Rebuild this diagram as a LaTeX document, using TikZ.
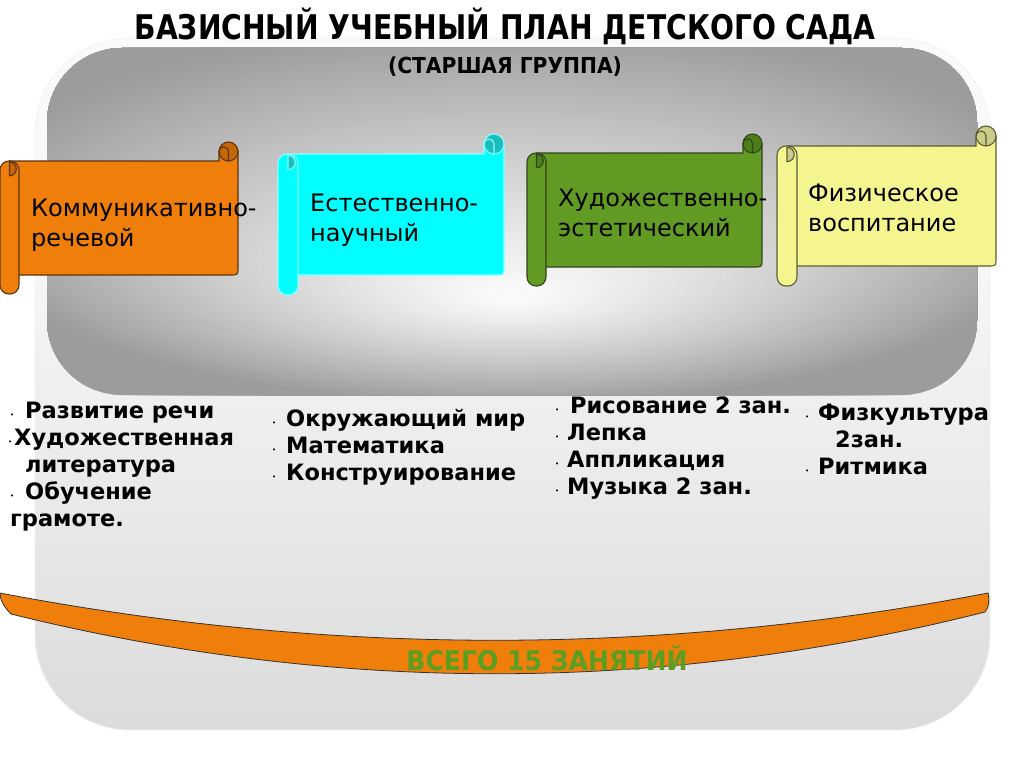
\documentclass[tikz,border=0pt]{standalone}
\usepackage{fontspec}
\setmainfont{DejaVu Sans}
\usetikzlibrary{calc}
\definecolor{orF}{HTML}{EF7F0A}
\definecolor{orC}{HTML}{C4660A}
\definecolor{orL}{HTML}{5B3410}
\definecolor{cyF}{HTML}{00FFFF}
\definecolor{cyC}{HTML}{1CBDBD}
\definecolor{cyL}{HTML}{8CFFFF}
\definecolor{grF}{HTML}{629B23}
\definecolor{grC}{HTML}{4C7E1A}
\definecolor{grL}{HTML}{34441A}
\definecolor{yeF}{HTML}{F5F58F}
\definecolor{yeC}{HTML}{CBCB8A}
\definecolor{yeL}{HTML}{5C5C33}
\definecolor{bandtext}{HTML}{5C9E22}
\pgfdeclareverticalshading{outershade}{100bp}{color(0bp)=(gray!30); color(25bp)=(gray!28); color(45bp)=(gray!15); color(60bp)=(gray!6); color(100bp)=(white)}
\tikzset{
  scrollline/.style={line width=1.1pt},
  lbl/.style={font=\fontsize{24}{30}\selectfont, anchor=base west, inner sep=0pt},
  item/.style={font=\bfseries\fontsize{22.5}{27}\selectfont, anchor=base west, inner sep=0pt},
  bul/.style={font=\fontsize{7}{7}\selectfont, anchor=base west, inner sep=0pt},
  ttl/.style={font=\bfseries\fontsize{34}{40}\selectfont, anchor=base, inner sep=0pt},
}
% #1 x0, #2 y0, #3 x1, #4 y1, #5 ch, #6 fill, #7 line, #8 curl
\newcommand\scrollshape[8]{%
  \draw[fill=#6,draw=#7,scrollline] ({#1+#5/2},{#2+#5}) -- ({#3-#5},{#2+#5}) -- ({#3-#5},{#2+#5/2}) -- ({#3},{#2+#5/2}) -- ({#3},{#4-#5-8}) .. controls ({#3},{#4-#5}) .. ({#3-8},{#4-#5}) -- ({#1+#5/2},{#4-#5}) -- cycle;
  \draw[fill=#8,draw=#7,scrollline] ({#3-#5/2},{#2+#5/2}) circle[radius={#5/2}];
  \draw[draw=#7,scrollline] ({#3-#5/2},{#2+#5}) -- ({#3-#5/2},{#2+#5/2}) arc[start angle=0,end angle=-180,radius={#5/4}];
  \draw[fill=#6,draw=#7,scrollline,rounded corners=9pt] ({#1},{#2+#5}) rectangle ({#1+#5},{#4});
  \draw[fill=#8,draw=#7,scrollline] ({#1+#5/2},{#2+#5*1.06}) arc[start angle=-90,end angle=90,radius={#5*0.36}] -- cycle;
}
\begin{document}
\begin{tikzpicture}[x=1pt,y=-1pt]
\useasboundingbox (0,0) rectangle (1024,768);
% outer panel
\shade[shading=outershade, draw=gray!12, line width=0.6pt, rounded corners=95pt] (35,38) rectangle (990,730);
% inner panel: gradient built from nested ellipses
\begin{scope}
  \clip[rounded corners=75pt] (47,48) rectangle (977,395);
  \fill[gray!78] (47,48) rectangle (977,395);
  \foreach \i in {90,89,...,1} {
    \pgfmathsetmacro\t{\i/70}
    \pgfmathsetmacro\p{min(78,3+74*(\t)^1.15)}
    \fill[gray!\p] (512,{300-85*\t}) ellipse[x radius={560*\t}, y radius={190*\t}];
  }
\end{scope}
% scrolls
\scrollshape{0}{142}{238}{294}{19}{orF}{orL}{orC}
\scrollshape{278}{134}{504}{295}{20}{cyF}{cyL}{cyC}
\scrollshape{527}{134}{762}{286}{19}{grF}{grL}{grC}
\scrollshape{777}{126}{996}{286}{20}{yeF}{yeL}{yeC}
% titles
\node[ttl] (title) at (505,40) {\scalebox{0.83}[1]{БАЗИСНЫЙ УЧЕБНЫЙ ПЛАН ДЕТСКОГО САДА}};
\node[ttl, font=\bfseries\fontsize{22}{26}\selectfont] (subtitle) at (505,74) {\scalebox{0.92}[1]{(СТАРШАЯ ГРУППА)}};
% scroll labels
\node[lbl] (s1a) at (31,216) {Коммуникативно-};
\node[lbl] (s1b) at (31,246) {речевой};
\node[lbl] (s2a) at (310,211) {Естественно-};
\node[lbl] (s2b) at (310,241) {научный};
\node[lbl] (s3a) at (558,206) {Художественно-};
\node[lbl] (s3b) at (558,236) {эстетический};
\node[lbl] (s4a) at (808,201) {Физическое};
\node[lbl] (s4b) at (808,231) {воспитание};
% column 1
\node[bul] (d1a) at (10,417) {•};
\node[item] (c1a) at (25,418) {Развитие речи};
\node[bul] (d1b) at (8,444) {•};
\node[item] (c1b) at (14,445) {Художественная};
\node[item] (c1c) at (25,472) {литература};
\node[bul] (d1d) at (10,498) {•};
\node[item] (c1d) at (25,499) {Обучение};
\node[item] (c1e) at (10,526) {грамоте.};
% column 2
\node[bul] (d2a) at (272,425) {•};
\node[item] (c2a) at (286,426) {Окружающий мир};
\node[bul] (d2b) at (272,452) {•};
\node[item] (c2b) at (286,453) {Математика};
\node[bul] (d2c) at (272,479) {•};
\node[item] (c2c) at (286,480) {Конструирование};
% column 3
\node[bul] (d3a) at (555,412) {•};
\node[item] (c3a) at (570,413) {Рисование 2 зан.};
\node[bul] (d3b) at (555,439) {•};
\node[item] (c3b) at (567,440) {Лепка};
\node[bul] (d3c) at (555,466) {•};
\node[item] (c3c) at (567,467) {Аппликация};
\node[bul] (d3d) at (555,493) {•};
\node[item] (c3d) at (567,494) {Музыка 2 зан.};
% column 4
\node[bul] (d4a) at (805,419) {•};
\node[item] (c4a) at (818,420) {Физкультура};
\node[item] (c4b) at (835,447) {2зан.};
\node[bul] (d4c) at (805,473) {•};
\node[item] (c4c) at (818,474) {Ритмика};
% band
\draw[fill=orF, draw=black!80, line width=0.8pt] (0,593) .. controls (330,656) and (660,656) .. (988,593)
  .. controls (990,600) and (989,607) .. (985,612)
  .. controls (660,694) and (335,694) .. (11,614)
  .. controls (4,607) and (0,600) .. cycle;
\node[ttl, font=\bfseries\fontsize{27}{30}\selectfont, text=bandtext] (total) at (547,670) {\scalebox{0.93}[1]{ВСЕГО 15 ЗАНЯТИЙ}};
\end{tikzpicture}
\end{document}
